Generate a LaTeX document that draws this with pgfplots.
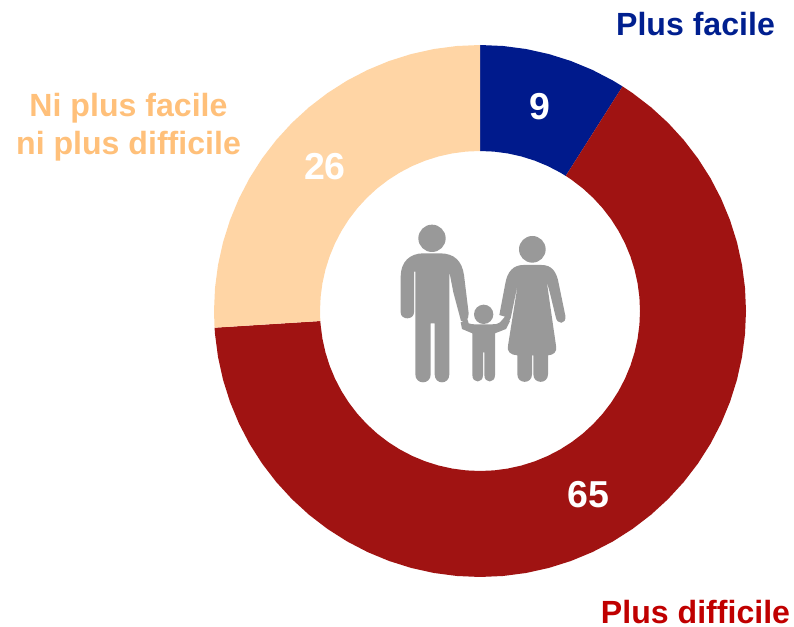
\documentclass[border=0pt]{standalone}
\usepackage{pgfplots}
\pgfplotsset{compat=1.18}
\usepackage{fontspec}
\setmainfont{Liberation Sans}
\definecolor{cblue}{HTML}{001A8C}
\definecolor{cred}{HTML}{A01312}
\definecolor{ccream}{HTML}{FFD5A5}
\definecolor{lblue}{HTML}{001F8F}
\definecolor{lred}{HTML}{C00000}
\definecolor{lorange}{HTML}{FFC07A}
\definecolor{icon}{HTML}{999999}
\newcommand{\lab}{\fontsize{32.1}{38}\selectfont\bfseries}
\newcommand{\num}{\fontsize{37.5}{40}\selectfont\bfseries}
\begin{document}
\begin{tikzpicture}[every node/.style={inner sep=0pt}]
\useasboundingbox (0,0) rectangle (794pt,626pt);
\begin{axis}[
  hide axis, scale only axis, width=794pt, height=626pt,
  xmin=-480, xmax=314, ymin=-315, ymax=311,
  enlargelimits=false, clip=false,
  every axis plot/.append style={draw=none, mark=none},
]
% 9 % : 90 deg to 57.6 deg
\addplot[fill=cblue, data cs=polar] coordinates {
(90,266)(85,266)(80,266)(75,266)(70,266)(65,266)(60,266)(57.6,266)
(57.6,160)(60,160)(65,160)(70,160)(75,160)(80,160)(85,160)(90,160)};
% 65 % : 57.6 deg to -176.4 deg
\addplot[fill=cred, data cs=polar] coordinates {
(57.6,266)(55,266)(50,266)(45,266)(40,266)(35,266)(30,266)(25,266)(20,266)(15,266)(10,266)(5,266)(0,266)
(-5,266)(-10,266)(-15,266)(-20,266)(-25,266)(-30,266)(-35,266)(-40,266)(-45,266)(-50,266)(-55,266)(-60,266)
(-65,266)(-70,266)(-75,266)(-80,266)(-85,266)(-90,266)(-95,266)(-100,266)(-105,266)(-110,266)(-115,266)(-120,266)
(-125,266)(-130,266)(-135,266)(-140,266)(-145,266)(-150,266)(-155,266)(-160,266)(-165,266)(-170,266)(-175,266)(-176.4,266)
(-176.4,160)(-175,160)(-170,160)(-165,160)(-160,160)(-155,160)(-150,160)(-145,160)(-140,160)(-135,160)(-130,160)(-125,160)
(-120,160)(-115,160)(-110,160)(-105,160)(-100,160)(-95,160)(-90,160)(-85,160)(-80,160)(-75,160)(-70,160)(-65,160)
(-60,160)(-55,160)(-50,160)(-45,160)(-40,160)(-35,160)(-30,160)(-25,160)(-20,160)(-15,160)(-10,160)(-5,160)
(0,160)(5,160)(10,160)(15,160)(20,160)(25,160)(30,160)(35,160)(40,160)(45,160)(50,160)(55,160)(57.6,160)};
% 26 % : -176.4 deg to -270 deg
\addplot[fill=ccream, data cs=polar] coordinates {
(-176.4,266)(-180,266)(-185,266)(-190,266)(-195,266)(-200,266)(-205,266)(-210,266)(-215,266)(-220,266)
(-225,266)(-230,266)(-235,266)(-240,266)(-245,266)(-250,266)(-255,266)(-260,266)(-265,266)(-270,266)
(-270,160)(-265,160)(-260,160)(-255,160)(-250,160)(-245,160)(-240,160)(-235,160)(-230,160)(-225,160)
(-220,160)(-215,160)(-210,160)(-205,160)(-200,160)(-195,160)(-190,160)(-185,160)(-180,160)(-176.4,160)};
\end{axis}
% labels: positions in picture units, y measured from the bottom
\node[anchor=base, text=white] at (539.5pt,506pt) {\num 9};
\node[anchor=base, text=white] at (325pt,446.7pt) {\num 26};
\node[anchor=base, text=white] at (588pt,118pt) {\num 65};
\node[anchor=base, text=lblue] at (695.5pt,590pt) {\lab Plus facile};
\node[anchor=base, text=lred] at (695.5pt,3pt) {\lab Plus difficile};
\node[anchor=base, text=lorange] at (128.5pt,509.3pt) {\lab Ni plus facile};
\node[anchor=base, text=lorange] at (128.5pt,471.7pt) {\lab ni plus difficile};
% family icon
\begin{scope}[shift={(390pt,411pt)},x=0.33333pt,y=-0.33333pt]
\fill[icon] (126,70) circle [radius=41pt/3];
\fill[icon] (281,298) circle [radius=29pt/3];
\fill[icon] (427,103) circle [radius=40pt/3];
% man
\fill[icon] (32,292) -- (32,185) .. controls (32,140) and (60,115) .. (100,115)
  -- (150,115) .. controls (195,115) and (216,140) .. (222,180)
  -- (236,295) .. controls (236,305) and (234,312) .. (228,318) -- (213,318)
  -- (190,232) -- (178,170) -- (178,478) .. controls (178,510) and (134,510) .. (134,478)
  -- (134,325) -- (122,325) -- (122,478) .. controls (122,510) and (76,510) .. (76,478)
  -- (76,170) -- (72,170) -- (72,292) .. controls (72,316) and (32,316) .. (32,292) -- cycle;
% child
\fill[icon] (212,322) -- (232,312) -- (236,325) .. controls (242,328) and (250,328) .. (258,328)
  -- (306,328) .. controls (316,328) and (326,327) .. (330,322) -- (345,305) -- (360,318)
  -- (348,342) -- (315,355) -- (315,480) .. controls (315,506) and (283,506) .. (283,480)
  -- (283,412) -- (279,412) -- (279,480) .. controls (279,506) and (247,506) .. (247,480)
  -- (247,355) -- (216,342) -- cycle;
% woman
\fill[icon] (345,305) -- (328,300) -- (346,205) .. controls (352,170) and (370,150) .. (400,150)
  -- (455,150) .. controls (485,150) and (500,170) .. (506,205)
  -- (526,302) .. controls (530,330) and (500,330) .. (497,305)
  -- (480,235) -- (470,198) -- (498,392) .. controls (502,412) and (490,420) .. (474,421)
  -- (474,478) .. controls (474,508) and (430,508) .. (430,478) -- (430,421) -- (426,421)
  -- (426,478) .. controls (426,508) and (382,508) .. (382,478) -- (382,421)
  .. controls (362,420) and (350,410) .. (354,392) -- (385,198) -- (362,310)
  .. controls (358,322) and (345,322) .. (340,318) -- cycle;
\end{scope}
\end{tikzpicture}
\end{document}
